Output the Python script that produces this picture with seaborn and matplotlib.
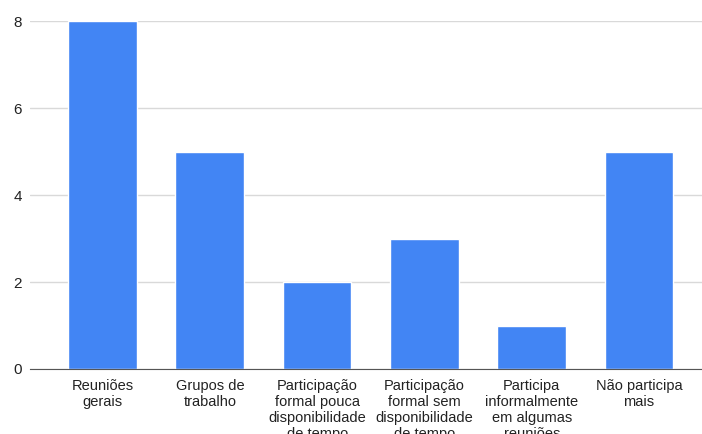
import matplotlib
matplotlib.use("Agg")
import matplotlib.pyplot as plt
import seaborn as sns
import pandas as pd

# data
categorias = [
    "Reuniões\ngerais",
    "Grupos de\ntrabalho",
    "Participação\nformal pouca\ndisponibilidade\nde tempo",
    "Participação\nformal sem\ndisponibilidade\nde tempo",
    "Participa\ninformalmente\nem algumas\nreuniões",
    "Não participa\nmais",
]
valores = [8, 5, 2, 3, 1, 5]
y_ticks = [0, 2, 4, 6, 8]

df = pd.DataFrame({"categoria": categorias, "valor": valores})

sns.set_style("white")
plt.rcParams["font.family"] = ["Liberation Sans", "DejaVu Sans"]

fig = plt.figure(figsize=(7.02, 4.34), dpi=100)
ax = fig.add_axes([30 / 702, 1 - 369 / 434, 1 - 30 / 702, (369 - 21) / 434])

sns.barplot(data=df, x="categoria", y="valor", color="#4285F4",
            width=0.64, saturation=1, ax=ax, zorder=3)

ax.set_xlim(-0.676, 5.587)
ax.set_ylim(0, 8)
ax.set_yticks(y_ticks)
ax.yaxis.grid(True, color="#d9d9d9", linewidth=1, zorder=0)
ax.set_xlabel("")
ax.set_ylabel("")
for s in ["top", "right", "left"]:
    ax.spines[s].set_visible(False)
ax.spines["bottom"].set_color("#555555")
ax.spines["bottom"].set_zorder(4)
ax.tick_params(axis="both", length=0, labelsize=10.5, colors="#222222")
ax.tick_params(axis="y", labelsize=11, pad=6)
ax.tick_params(axis="x", pad=7)
for lbl in ax.get_xticklabels():
    lbl.set_linespacing(1.2)

fig.savefig("out.png", dpi=100)
